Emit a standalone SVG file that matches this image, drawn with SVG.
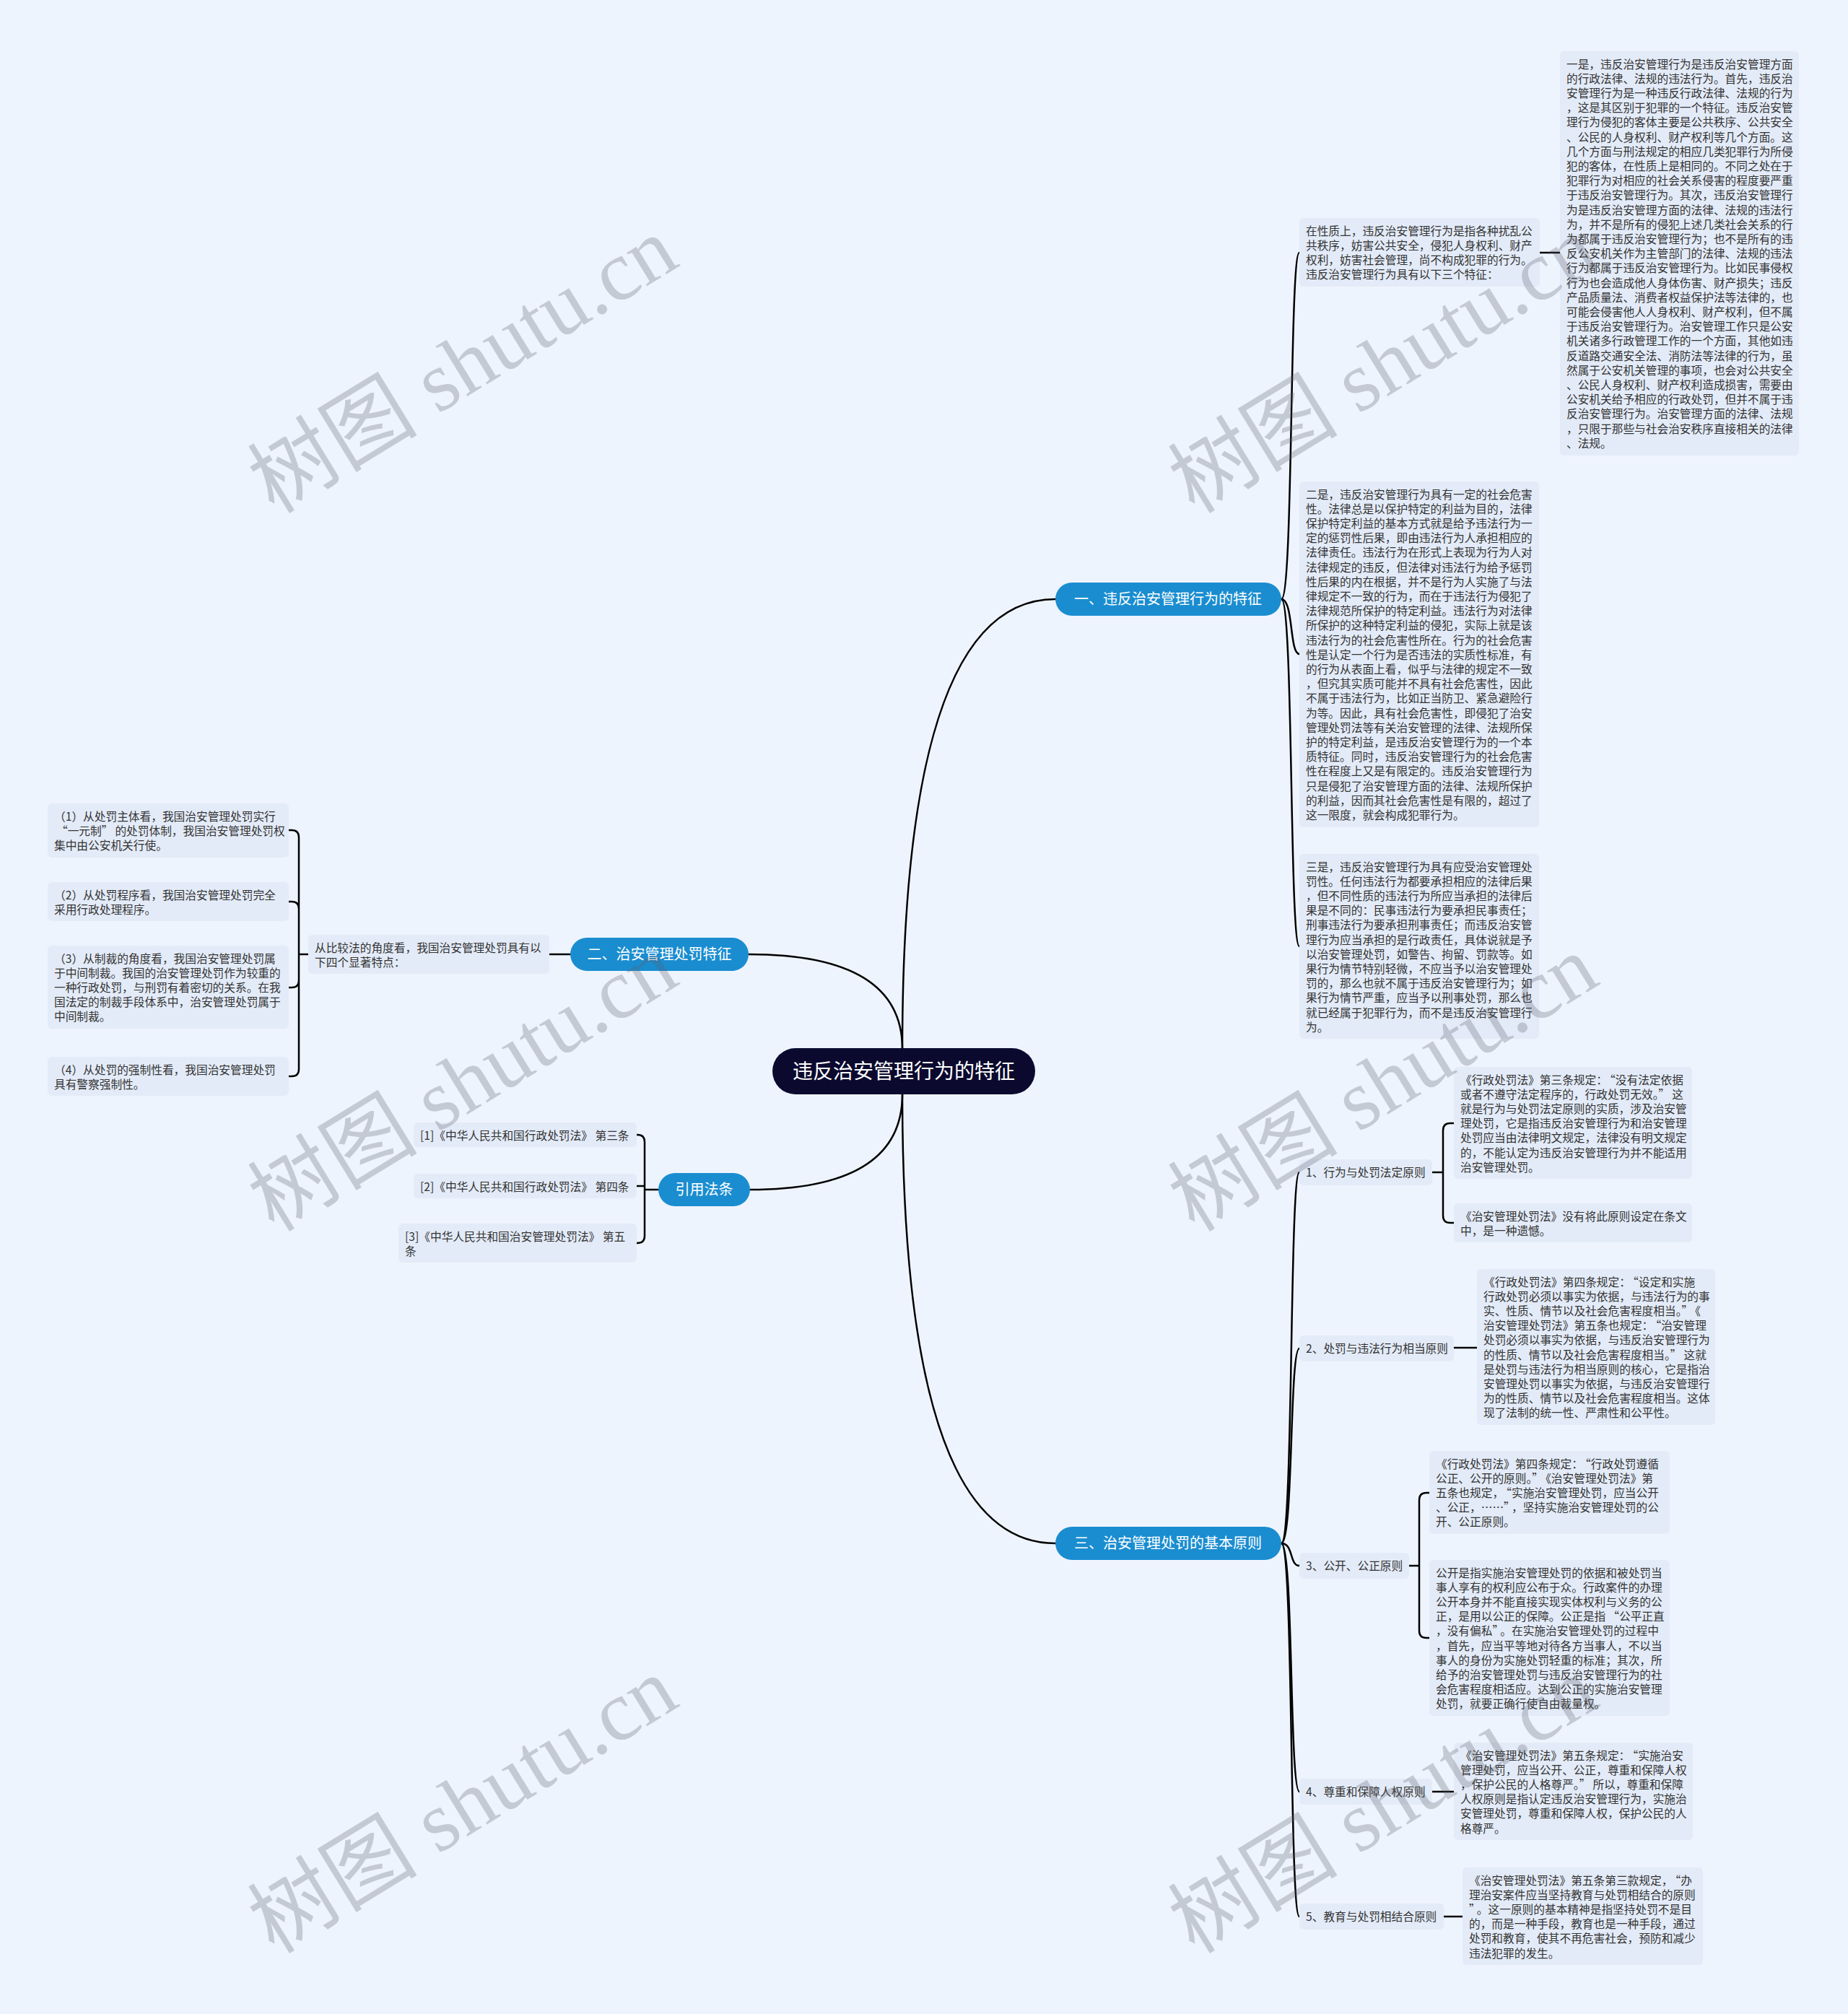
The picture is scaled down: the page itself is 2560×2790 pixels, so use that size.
<svg xmlns="http://www.w3.org/2000/svg" width="2560" height="2790" viewBox="0 0 2560 2790">
<style>
.box{fill:#e3ebf8}
.t{font-family:"Noto Sans CJK SC","Noto Sans",sans-serif;font-size:15.7px;fill:#333}
.pill{fill:#1a8dd0}
.pt{font-family:"Noto Sans CJK SC","Noto Sans",sans-serif;font-size:20px;fill:#fff;text-anchor:middle}
.rt{font-family:"Noto Sans CJK SC","Noto Sans",sans-serif;font-size:28px;fill:#fff;text-anchor:middle}
.ln{fill:none;stroke:#000;stroke-width:2.5;stroke-linecap:round}
.wm{font-family:"Liberation Serif","Noto Sans CJK SC",serif;font-size:118px;fill:#5a5f68;fill-opacity:0.28;text-anchor:middle}
</style>
<rect x="0" y="0" width="2560" height="2790" fill="#eef4fd"/>

<g id="connectors">
<path class="ln" d="M1250 1453 Q1250 830 1462 830"/>
<path class="ln" d="M1250 1453 Q1250 1322 1037 1322"/>
<path class="ln" d="M1250 1516 Q1250 1648 1039 1648"/>
<path class="ln" d="M1250 1516 Q1250 2138 1462 2138"/>
<path class="ln" d="M1775 830 C1792 830 1786 350 1800 350"/>
<path class="ln" d="M1775 830 C1792 830 1786 906 1800 906"/>
<path class="ln" d="M1775 830 C1792 830 1786 1311 1800 1311"/>
<path class="ln" d="M2133 350 L2161 350"/>
<path class="ln" d="M790 1322 L761 1322"/>
<path class="ln" d="M427 1322 L414 1322 M414 1322 L414 1160 Q414 1150 404 1150 L400 1150 M414 1322 L414 1259 Q414 1249 404 1249 L400 1249 M414 1322 L414 1358 Q414 1368 404 1368 L400 1368 M414 1322 L414 1481 Q414 1491 404 1491 L400 1491"/>
<path class="ln" d="M912 1648 L893 1648 M893 1648 L893 1582 Q893 1572 883 1572 L882 1572 M893 1643 L882 1643 M893 1648 L893 1712 Q893 1722 883 1722 L882 1722"/>
<path class="ln" d="M1775 2138 C1792 2138 1786 1624 1800 1624"/>
<path class="ln" d="M1775 2138 C1792 2138 1786 1868 1800 1868"/>
<path class="ln" d="M1775 2138 C1792 2138 1786 2169 1800 2169"/>
<path class="ln" d="M1775 2138 C1792 2138 1786 2482 1800 2482"/>
<path class="ln" d="M1775 2138 C1792 2138 1786 2655 1800 2655"/>
<path class="ln" d="M1984 1624 L1999 1624 M1999 1624 L1999 1566 Q1999 1556 2009 1556 L2014 1556 M1999 1624 L1999 1684 Q1999 1694 2009 1694 L2014 1694"/>
<path class="ln" d="M2014 1867 L2046 1867"/>
<path class="ln" d="M1952 2169 L1966 2169 M1966 2169 L1966 2078 Q1966 2068 1976 2068 L1980 2068 M1966 2169 L1966 2259 Q1966 2269 1976 2269 L1980 2269"/>
<path class="ln" d="M1984 2482 L2014 2482"/>
<path class="ln" d="M2000 2655 L2026 2655"/>
</g>

<g id="root">
<rect x="1070" y="1452" width="364" height="64" rx="32" fill="#0b0a2e"/>
<text class="rt" x="1252" y="1494">违反治安管理行为的特征</text>
</g>

<g id="branch1">
<rect class="pill" x="1462" y="807" width="313" height="46" rx="23"/>
<text class="pt" x="1618" y="837">一、违反治安管理行为的特征</text>
</g>
<g id="a1">
<rect class="box" x="1800" y="302" width="333" height="95" rx="6"/>
<text class="t" x="1809" y="325.5"><tspan x="1809">在性质上，违反治安管理行为是指各种扰乱公</tspan><tspan x="1809" dy="20.2">共秩序，妨害公共安全，侵犯人身权利、财产</tspan><tspan x="1809" dy="20.2">权利，妨害社会管理，尚不构成犯罪的行为。</tspan><tspan x="1809" dy="20.2">违反治安管理行为具有以下三个特征：</tspan></text>
</g>
<g id="a1a">
<rect class="box" x="2161" y="71" width="331" height="560" rx="6"/>
<text class="t" x="2170" y="94.5"><tspan x="2170">一是，违反治安管理行为是违反治安管理方面</tspan><tspan x="2170" dy="20.2">的行政法律、法规的违法行为。首先，违反治</tspan><tspan x="2170" dy="20.2">安管理行为是一种违反行政法律、法规的行为</tspan><tspan x="2170" dy="20.2">，这是其区别于犯罪的一个特征。违反治安管</tspan><tspan x="2170" dy="20.2">理行为侵犯的客体主要是公共秩序、公共安全</tspan><tspan x="2170" dy="20.2">、公民的人身权利、财产权利等几个方面。这</tspan><tspan x="2170" dy="20.2">几个方面与刑法规定的相应几类犯罪行为所侵</tspan><tspan x="2170" dy="20.2">犯的客体，在性质上是相同的。不同之处在于</tspan><tspan x="2170" dy="20.2">犯罪行为对相应的社会关系侵害的程度要严重</tspan><tspan x="2170" dy="20.2">于违反治安管理行为。其次，违反治安管理行</tspan><tspan x="2170" dy="20.2">为是违反治安管理方面的法律、法规的违法行</tspan><tspan x="2170" dy="20.2">为，并不是所有的侵犯上述几类社会关系的行</tspan><tspan x="2170" dy="20.2">为都属于违反治安管理行为；也不是所有的违</tspan><tspan x="2170" dy="20.2">反公安机关作为主管部门的法律、法规的违法</tspan><tspan x="2170" dy="20.2">行为都属于违反治安管理行为。比如民事侵权</tspan><tspan x="2170" dy="20.2">行为也会造成他人身体伤害、财产损失；违反</tspan><tspan x="2170" dy="20.2">产品质量法、消费者权益保护法等法律的，也</tspan><tspan x="2170" dy="20.2">可能会侵害他人人身权利、财产权利，但不属</tspan><tspan x="2170" dy="20.2">于违反治安管理行为。治安管理工作只是公安</tspan><tspan x="2170" dy="20.2">机关诸多行政管理工作的一个方面，其他如违</tspan><tspan x="2170" dy="20.2">反道路交通安全法、消防法等法律的行为，虽</tspan><tspan x="2170" dy="20.2">然属于公安机关管理的事项，也会对公共安全</tspan><tspan x="2170" dy="20.2">、公民人身权利、财产权利造成损害，需要由</tspan><tspan x="2170" dy="20.2">公安机关给予相应的行政处罚，但并不属于违</tspan><tspan x="2170" dy="20.2">反治安管理行为。治安管理方面的法律、法规</tspan><tspan x="2170" dy="20.2">，只限于那些与社会治安秩序直接相关的法律</tspan><tspan x="2170" dy="20.2">、法规。</tspan></text>
</g>
<g id="a2">
<rect class="box" x="1800" y="667" width="332" height="479" rx="6"/>
<text class="t" x="1809" y="690.5"><tspan x="1809">二是，违反治安管理行为具有一定的社会危害</tspan><tspan x="1809" dy="20.2">性。法律总是以保护特定的利益为目的，法律</tspan><tspan x="1809" dy="20.2">保护特定利益的基本方式就是给予违法行为一</tspan><tspan x="1809" dy="20.2">定的惩罚性后果，即由违法行为人承担相应的</tspan><tspan x="1809" dy="20.2">法律责任。违法行为在形式上表现为行为人对</tspan><tspan x="1809" dy="20.2">法律规定的违反，但法律对违法行为给予惩罚</tspan><tspan x="1809" dy="20.2">性后果的内在根据，并不是行为人实施了与法</tspan><tspan x="1809" dy="20.2">律规定不一致的行为，而在于违法行为侵犯了</tspan><tspan x="1809" dy="20.2">法律规范所保护的特定利益。违法行为对法律</tspan><tspan x="1809" dy="20.2">所保护的这种特定利益的侵犯，实际上就是该</tspan><tspan x="1809" dy="20.2">违法行为的社会危害性所在。行为的社会危害</tspan><tspan x="1809" dy="20.2">性是认定一个行为是否违法的实质性标准，有</tspan><tspan x="1809" dy="20.2">的行为从表面上看，似乎与法律的规定不一致</tspan><tspan x="1809" dy="20.2">，但究其实质可能并不具有社会危害性，因此</tspan><tspan x="1809" dy="20.2">不属于违法行为，比如正当防卫、紧急避险行</tspan><tspan x="1809" dy="20.2">为等。因此，具有社会危害性，即侵犯了治安</tspan><tspan x="1809" dy="20.2">管理处罚法等有关治安管理的法律、法规所保</tspan><tspan x="1809" dy="20.2">护的特定利益，是违反治安管理行为的一个本</tspan><tspan x="1809" dy="20.2">质特征。同时，违反治安管理行为的社会危害</tspan><tspan x="1809" dy="20.2">性在程度上又是有限定的。违反治安管理行为</tspan><tspan x="1809" dy="20.2">只是侵犯了治安管理方面的法律、法规所保护</tspan><tspan x="1809" dy="20.2">的利益，因而其社会危害性是有限的，超过了</tspan><tspan x="1809" dy="20.2">这一限度，就会构成犯罪行为。</tspan></text>
</g>
<g id="a3">
<rect class="box" x="1800" y="1183" width="332" height="256" rx="6"/>
<text class="t" x="1809" y="1206.5"><tspan x="1809">三是，违反治安管理行为具有应受治安管理处</tspan><tspan x="1809" dy="20.2">罚性。任何违法行为都要承担相应的法律后果</tspan><tspan x="1809" dy="20.2">，但不同性质的违法行为所应当承担的法律后</tspan><tspan x="1809" dy="20.2">果是不同的：民事违法行为要承担民事责任；</tspan><tspan x="1809" dy="20.2">刑事违法行为要承担刑事责任；而违反治安管</tspan><tspan x="1809" dy="20.2">理行为应当承担的是行政责任，具体说就是予</tspan><tspan x="1809" dy="20.2">以治安管理处罚，如警告、拘留、罚款等。如</tspan><tspan x="1809" dy="20.2">果行为情节特别轻微，不应当予以治安管理处</tspan><tspan x="1809" dy="20.2">罚的，那么也就不属于违反治安管理行为；如</tspan><tspan x="1809" dy="20.2">果行为情节严重，应当予以刑事处罚，那么也</tspan><tspan x="1809" dy="20.2">就已经属于犯罪行为，而不是违反治安管理行</tspan><tspan x="1809" dy="20.2">为。</tspan></text>
</g>

<g id="branch2">
<rect class="pill" x="790" y="1299" width="247" height="46" rx="23"/>
<text class="pt" x="913.5" y="1329">二、治安管理处罚特征</text>
</g>
<g id="b1">
<rect class="box" x="427" y="1295" width="334" height="54" rx="6"/>
<text class="t" x="436" y="1318.5"><tspan x="436">从比较法的角度看，我国治安管理处罚具有以</tspan><tspan x="436" dy="20.2">下四个显著特点：</tspan></text>
</g>
<g id="b1a">
<rect class="box" x="66" y="1113" width="334" height="75" rx="6"/>
<text class="t" x="75" y="1136.5"><tspan x="75">（1）从处罚主体看，我国治安管理处罚实行</tspan><tspan x="75" dy="20.2"><tspan dx="3">“</tspan>一元制”<tspan dx="3">的处罚体制，我国治安管理处罚权</tspan></tspan><tspan x="75" dy="20.2">集中由公安机关行使。</tspan></text>
</g>
<g id="b1b">
<rect class="box" x="66" y="1222" width="334" height="54" rx="6"/>
<text class="t" x="75" y="1245.5"><tspan x="75">（2）从处罚程序看，我国治安管理处罚完全</tspan><tspan x="75" dy="20.2">采用行政处理程序。</tspan></text>
</g>
<g id="b1c">
<rect class="box" x="66" y="1310" width="334" height="115" rx="6"/>
<text class="t" x="75" y="1333.5"><tspan x="75">（3）从制裁的角度看，我国治安管理处罚属</tspan><tspan x="75" dy="20.2">于中间制裁。我国的治安管理处罚作为较重的</tspan><tspan x="75" dy="20.2">一种行政处罚，与刑罚有着密切的关系。在我</tspan><tspan x="75" dy="20.2">国法定的制裁手段体系中，治安管理处罚属于</tspan><tspan x="75" dy="20.2">中间制裁。</tspan></text>
</g>
<g id="b1d">
<rect class="box" x="66" y="1464" width="334" height="54" rx="6"/>
<text class="t" x="75" y="1487.5"><tspan x="75">（4）从处罚的强制性看，我国治安管理处罚</tspan><tspan x="75" dy="20.2">具有警察强制性。</tspan></text>
</g>

<g id="branch3">
<rect class="pill" x="912" y="1625" width="127" height="46" rx="23"/>
<text class="pt" x="975.5" y="1655">引用法条</text>
</g>
<g id="c1">
<rect class="box" x="573" y="1555" width="309" height="34" rx="6"/>
<text class="t" x="582" y="1578.5">[1]《中华人民共和国行政处罚法》 第三条</text>
</g>
<g id="c2">
<rect class="box" x="573" y="1626" width="309" height="34" rx="6"/>
<text class="t" x="582" y="1649.5">[2]《中华人民共和国行政处罚法》 第四条</text>
</g>
<g id="c3">
<rect class="box" x="552" y="1695" width="330" height="54" rx="6"/>
<text class="t" x="561" y="1718.5"><tspan x="561">[3]《中华人民共和国治安管理处罚法》 第五</tspan><tspan x="561" dy="20.2">条</tspan></text>
</g>

<g id="branch4">
<rect class="pill" x="1462" y="2115" width="313" height="46" rx="23"/>
<text class="pt" x="1618" y="2145">三、治安管理处罚的基本原则</text>
</g>
<g id="d1">
<rect class="box" x="1800" y="1606" width="184" height="36" rx="6"/>
<text class="t" x="1809" y="1629.7">1、行为与处罚法定原则</text>
</g>
<g id="d1a">
<rect class="box" x="2014" y="1478" width="330" height="155" rx="6"/>
<text class="t" x="2023" y="1501.5"><tspan x="2023">《行政处罚法》第三条规定：<tspan dx="3">“</tspan>没有法定依据</tspan><tspan x="2023" dy="20.2">或者不遵守法定程序的，行政处罚无效。”<tspan dx="3">这</tspan></tspan><tspan x="2023" dy="20.2">就是行为与处罚法定原则的实质，涉及治安管</tspan><tspan x="2023" dy="20.2">理处罚，它是指违反治安管理行为和治安管理</tspan><tspan x="2023" dy="20.2">处罚应当由法律明文规定，法律没有明文规定</tspan><tspan x="2023" dy="20.2">的，不能认定为违反治安管理行为并不能适用</tspan><tspan x="2023" dy="20.2">治安管理处罚。</tspan></text>
</g>
<g id="d1b">
<rect class="box" x="2014" y="1667" width="330" height="54" rx="6"/>
<text class="t" x="2023" y="1690.5"><tspan x="2023">《治安管理处罚法》没有将此原则设定在条文</tspan><tspan x="2023" dy="20.2">中，是一种遗憾。</tspan></text>
</g>
<g id="d2">
<rect class="box" x="1800" y="1850" width="214" height="36" rx="6"/>
<text class="t" x="1809" y="1873.7">2、处罚与违法行为相当原则</text>
</g>
<g id="d2a">
<rect class="box" x="2046" y="1758" width="330" height="216" rx="6"/>
<text class="t" x="2055" y="1781.5"><tspan x="2055">《行政处罚法》第四条规定：<tspan dx="3">“</tspan>设定和实施</tspan><tspan x="2055" dy="20.2">行政处罚必须以事实为依据，与违法行为的事</tspan><tspan x="2055" dy="20.2">实、性质、情节以及社会危害程度相当。”<tspan dx="3">《</tspan></tspan><tspan x="2055" dy="20.2">治安管理处罚法》第五条也规定：<tspan dx="3">“</tspan>治安管理</tspan><tspan x="2055" dy="20.2">处罚必须以事实为依据，与违反治安管理行为</tspan><tspan x="2055" dy="20.2">的性质、情节以及社会危害程度相当。”<tspan dx="3">这就</tspan></tspan><tspan x="2055" dy="20.2">是处罚与违法行为相当原则的核心，它是指治</tspan><tspan x="2055" dy="20.2">安管理处罚以事实为依据，与违反治安管理行</tspan><tspan x="2055" dy="20.2">为的性质、情节以及社会危害程度相当。这体</tspan><tspan x="2055" dy="20.2">现了法制的统一性、严肃性和公平性。</tspan></text>
</g>
<g id="d3">
<rect class="box" x="1800" y="2151" width="152" height="36" rx="6"/>
<text class="t" x="1809" y="2174.7">3、公开、公正原则</text>
</g>
<g id="d3a">
<rect class="box" x="1980" y="2010" width="333" height="115" rx="6"/>
<text class="t" x="1989" y="2033.5"><tspan x="1989">《行政处罚法》第四条规定：<tspan dx="3">“</tspan>行政处罚遵循</tspan><tspan x="1989" dy="20.2">公正、公开的原则。”<tspan dx="3">《治安管理处罚法》第</tspan></tspan><tspan x="1989" dy="20.2">五条也规定，<tspan dx="3">“</tspan>实施治安管理处罚，应当公开</tspan><tspan x="1989" dy="20.2">、公正，……”<tspan dx="3">，坚持实施治安管理处罚的公</tspan></tspan><tspan x="1989" dy="20.2">开、公正原则。</tspan></text>
</g>
<g id="d3b">
<rect class="box" x="1980" y="2161" width="333" height="216" rx="6"/>
<text class="t" x="1989" y="2184.5"><tspan x="1989">公开是指实施治安管理处罚的依据和被处罚当</tspan><tspan x="1989" dy="20.2">事人享有的权利应公布于众。行政案件的办理</tspan><tspan x="1989" dy="20.2">公开本身并不能直接实现实体权利与义务的公</tspan><tspan x="1989" dy="20.2">正，是用以公正的保障。公正是指<tspan dx="3">“</tspan>公平正直</tspan><tspan x="1989" dy="20.2">，没有偏私”<tspan dx="3">。在实施治安管理处罚的过程中</tspan></tspan><tspan x="1989" dy="20.2">，首先，应当平等地对待各方当事人，不以当</tspan><tspan x="1989" dy="20.2">事人的身份为实施处罚轻重的标准；其次，所</tspan><tspan x="1989" dy="20.2">给予的治安管理处罚与违反治安管理行为的社</tspan><tspan x="1989" dy="20.2">会危害程度相适应。达到公正的实施治安管理</tspan><tspan x="1989" dy="20.2">处罚，就要正确行使自由裁量权。</tspan></text>
</g>
<g id="d4">
<rect class="box" x="1800" y="2464" width="184" height="36" rx="6"/>
<text class="t" x="1809" y="2487.7">4、尊重和保障人权原则</text>
</g>
<g id="d4a">
<rect class="box" x="2014" y="2414" width="331" height="135" rx="6"/>
<text class="t" x="2023" y="2437.5"><tspan x="2023">《治安管理处罚法》第五条规定：<tspan dx="3">“</tspan>实施治安</tspan><tspan x="2023" dy="20.2">管理处罚，应当公开、公正，尊重和保障人权</tspan><tspan x="2023" dy="20.2">，保护公民的人格尊严。”<tspan dx="3">所以，尊重和保障</tspan></tspan><tspan x="2023" dy="20.2">人权原则是指认定违反治安管理行为，实施治</tspan><tspan x="2023" dy="20.2">安管理处罚，尊重和保障人权，保护公民的人</tspan><tspan x="2023" dy="20.2">格尊严。</tspan></text>
</g>
<g id="d5">
<rect class="box" x="1800" y="2637" width="200" height="36" rx="6"/>
<text class="t" x="1809" y="2660.7">5、教育与处罚相结合原则</text>
</g>
<g id="d5a">
<rect class="box" x="2026" y="2587" width="333" height="135" rx="6"/>
<text class="t" x="2035" y="2610.5"><tspan x="2035">《治安管理处罚法》第五条第三款规定，<tspan dx="3">“</tspan>办</tspan><tspan x="2035" dy="20.2">理治安案件应当坚持教育与处罚相结合的原则</tspan><tspan x="2035" dy="20.2">”<tspan dx="3">。这一原则的基本精神是指坚持处罚不是目</tspan></tspan><tspan x="2035" dy="20.2">的，而是一种手段，教育也是一种手段，通过</tspan><tspan x="2035" dy="20.2">处罚和教育，使其不再危害社会，预防和减少</tspan><tspan x="2035" dy="20.2">违法犯罪的发生。</tspan></text>
</g>

<g id="watermarks">
<text class="wm" transform="translate(662 540) rotate(-31.5)">树图 shutu.cn</text>
<text class="wm" transform="translate(1937 540) rotate(-31.5)">树图 shutu.cn</text>
<text class="wm" transform="translate(662 1535) rotate(-31.5)">树图 shutu.cn</text>
<text class="wm" transform="translate(1937 1535) rotate(-31.5)">树图 shutu.cn</text>
<text class="wm" transform="translate(662 2535) rotate(-31.5)">树图 shutu.cn</text>
<text class="wm" transform="translate(1937 2535) rotate(-31.5)">树图 shutu.cn</text>
</g>
</svg>
